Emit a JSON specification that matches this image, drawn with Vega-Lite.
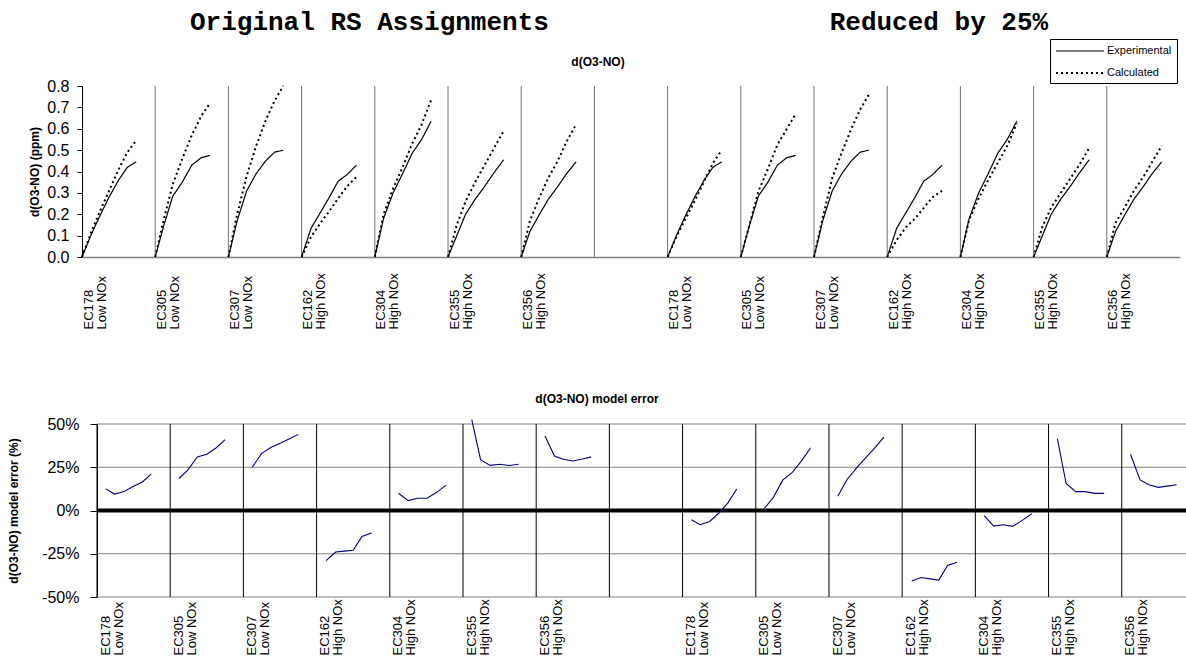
{
  "$schema": "https://vega.github.io/schema/vega-lite/v6.json",
  "background": "white",
  "padding": {"left": 7, "top": 8, "right": 0, "bottom": 0},
  "config": {
    "view": {"stroke": null},
    "font": "Liberation Sans",
    "axis": {"labelFont": "Liberation Sans", "titleFont": "Liberation Sans", "labelColor": "black", "titleColor": "black"},
    "legend": {"labelFont": "Liberation Sans"}
  },
  "title": {
    "text": "Original RS Assignments\u00a0\u00a0\u00a0\u00a0\u00a0\u00a0\u00a0\u00a0\u00a0\u00a0\u00a0\u00a0\u00a0\u00a0\u00a0\u00a0\u00a0\u00a0Reduced by 25%",
    "font": "Liberation Mono", "fontSize": 26, "fontWeight": "bold", "color": "black",
    "anchor": "start", "frame": "group", "dx": 108, "offset": 4
  },
  "datasets": {
    "d": [
      {"g":"A1","x":0,"Experimental":0,"Calculated":0,"err":null},
      {"g":"A1","x":0.12,"Experimental":0.10,"Calculated":0.112,"err":12.5},
      {"g":"A1","x":0.24,"Experimental":0.19,"Calculated":0.21,"err":9.5},
      {"g":"A1","x":0.37,"Experimental":0.28,"Calculated":0.31,"err":11},
      {"g":"A1","x":0.5,"Experimental":0.36,"Calculated":0.41,"err":14},
      {"g":"A1","x":0.62,"Experimental":0.42,"Calculated":0.49,"err":16.5},
      {"g":"A1","x":0.74,"Experimental":0.445,"Calculated":0.545,"err":21},

      {"g":"A2","x":1,"Experimental":0,"Calculated":0,"err":null},
      {"g":"A2","x":1.12,"Experimental":0.15,"Calculated":0.18,"err":18.5},
      {"g":"A2","x":1.24,"Experimental":0.285,"Calculated":0.34,"err":23.3},
      {"g":"A2","x":1.37,"Experimental":0.35,"Calculated":0.46,"err":31},
      {"g":"A2","x":1.5,"Experimental":0.43,"Calculated":0.57,"err":32.5},
      {"g":"A2","x":1.63,"Experimental":0.465,"Calculated":0.66,"err":36.3},
      {"g":"A2","x":1.75,"Experimental":0.475,"Calculated":0.72,"err":41},

      {"g":"A3","x":2,"Experimental":0,"Calculated":0,"err":null},
      {"g":"A3","x":2.12,"Experimental":0.17,"Calculated":0.2,"err":25},
      {"g":"A3","x":2.25,"Experimental":0.31,"Calculated":0.38,"err":33},
      {"g":"A3","x":2.38,"Experimental":0.39,"Calculated":0.52,"err":36.5},
      {"g":"A3","x":2.51,"Experimental":0.45,"Calculated":0.64,"err":39},
      {"g":"A3","x":2.63,"Experimental":0.49,"Calculated":0.73,"err":41.5},
      {"g":"A3","x":2.75,"Experimental":0.50,"Calculated":0.80,"err":44},

      {"g":"A4","x":3,"Experimental":0,"Calculated":0,"err":null},
      {"g":"A4","x":3.13,"Experimental":0.135,"Calculated":0.095,"err":-29},
      {"g":"A4","x":3.26,"Experimental":0.21,"Calculated":0.16,"err":-24},
      {"g":"A4","x":3.38,"Experimental":0.28,"Calculated":0.215,"err":-23.5},
      {"g":"A4","x":3.5,"Experimental":0.355,"Calculated":0.275,"err":-23},
      {"g":"A4","x":3.62,"Experimental":0.385,"Calculated":0.33,"err":-15},
      {"g":"A4","x":3.75,"Experimental":0.43,"Calculated":0.375,"err":-13},

      {"g":"A5","x":4,"Experimental":0,"Calculated":0,"err":null},
      {"g":"A5","x":4.12,"Experimental":0.18,"Calculated":0.2,"err":10},
      {"g":"A5","x":4.25,"Experimental":0.30,"Calculated":0.32,"err":5.7},
      {"g":"A5","x":4.38,"Experimental":0.39,"Calculated":0.42,"err":7.1},
      {"g":"A5","x":4.51,"Experimental":0.485,"Calculated":0.53,"err":7.1},
      {"g":"A5","x":4.64,"Experimental":0.55,"Calculated":0.62,"err":10.5},
      {"g":"A5","x":4.77,"Experimental":0.635,"Calculated":0.735,"err":14.7},

      {"g":"A6","x":5,"Experimental":0,"Calculated":0,"err":null},
      {"g":"A6","x":5.12,"Experimental":0.10,"Calculated":0.15,"err":52.5},
      {"g":"A6","x":5.24,"Experimental":0.20,"Calculated":0.26,"err":29.4},
      {"g":"A6","x":5.37,"Experimental":0.27,"Calculated":0.35,"err":26.1},
      {"g":"A6","x":5.5,"Experimental":0.33,"Calculated":0.43,"err":26.7},
      {"g":"A6","x":5.63,"Experimental":0.395,"Calculated":0.51,"err":26},
      {"g":"A6","x":5.76,"Experimental":0.455,"Calculated":0.59,"err":26.7},

      {"g":"A7","x":6,"Experimental":0,"Calculated":0,"err":null},
      {"g":"A7","x":6.12,"Experimental":0.12,"Calculated":0.17,"err":43},
      {"g":"A7","x":6.25,"Experimental":0.20,"Calculated":0.28,"err":31.5},
      {"g":"A7","x":6.37,"Experimental":0.27,"Calculated":0.37,"err":29.6},
      {"g":"A7","x":6.5,"Experimental":0.33,"Calculated":0.45,"err":28.6},
      {"g":"A7","x":6.62,"Experimental":0.39,"Calculated":0.54,"err":29.6},
      {"g":"A7","x":6.75,"Experimental":0.445,"Calculated":0.62,"err":31},

      {"g":"B1","x":8,"Experimental":0,"Calculated":0,"err":null},
      {"g":"B1","x":8.12,"Experimental":0.10,"Calculated":0.095,"err":-5.3},
      {"g":"B1","x":8.24,"Experimental":0.19,"Calculated":0.175,"err":-8.2},
      {"g":"B1","x":8.37,"Experimental":0.28,"Calculated":0.262,"err":-6.3},
      {"g":"B1","x":8.5,"Experimental":0.36,"Calculated":0.355,"err":-1.3},
      {"g":"B1","x":8.62,"Experimental":0.42,"Calculated":0.44,"err":4.4},
      {"g":"B1","x":8.74,"Experimental":0.445,"Calculated":0.50,"err":12.4},

      {"g":"B2","x":9,"Experimental":0,"Calculated":0,"err":null},
      {"g":"B2","x":9.12,"Experimental":0.15,"Calculated":0.152,"err":1.3},
      {"g":"B2","x":9.24,"Experimental":0.285,"Calculated":0.307,"err":7.6},
      {"g":"B2","x":9.37,"Experimental":0.35,"Calculated":0.412,"err":17.7},
      {"g":"B2","x":9.5,"Experimental":0.43,"Calculated":0.525,"err":22},
      {"g":"B2","x":9.63,"Experimental":0.465,"Calculated":0.6,"err":29},
      {"g":"B2","x":9.75,"Experimental":0.475,"Calculated":0.67,"err":36.3},

      {"g":"B3","x":10,"Experimental":0,"Calculated":0,"err":null},
      {"g":"B3","x":10.12,"Experimental":0.17,"Calculated":0.185,"err":8.2},
      {"g":"B3","x":10.25,"Experimental":0.31,"Calculated":0.37,"err":18.1},
      {"g":"B3","x":10.38,"Experimental":0.39,"Calculated":0.49,"err":24.8},
      {"g":"B3","x":10.51,"Experimental":0.45,"Calculated":0.6,"err":30.9},
      {"g":"B3","x":10.63,"Experimental":0.49,"Calculated":0.69,"err":36.3},
      {"g":"B3","x":10.75,"Experimental":0.50,"Calculated":0.76,"err":42.4},

      {"g":"B4","x":11,"Experimental":0,"Calculated":0,"err":null},
      {"g":"B4","x":11.13,"Experimental":0.135,"Calculated":0.08,"err":-40.8},
      {"g":"B4","x":11.26,"Experimental":0.21,"Calculated":0.14,"err":-38.7},
      {"g":"B4","x":11.38,"Experimental":0.28,"Calculated":0.18,"err":-39.5},
      {"g":"B4","x":11.5,"Experimental":0.355,"Calculated":0.23,"err":-40.2},
      {"g":"B4","x":11.62,"Experimental":0.385,"Calculated":0.28,"err":-31.8},
      {"g":"B4","x":11.75,"Experimental":0.43,"Calculated":0.31,"err":-29.9},

      {"g":"B5","x":12,"Experimental":0,"Calculated":0,"err":null},
      {"g":"B5","x":12.12,"Experimental":0.18,"Calculated":0.175,"err":-2.9},
      {"g":"B5","x":12.25,"Experimental":0.30,"Calculated":0.275,"err":-9},
      {"g":"B5","x":12.38,"Experimental":0.39,"Calculated":0.36,"err":-8.2},
      {"g":"B5","x":12.51,"Experimental":0.485,"Calculated":0.44,"err":-9.2},
      {"g":"B5","x":12.64,"Experimental":0.55,"Calculated":0.52,"err":-5.7},
      {"g":"B5","x":12.77,"Experimental":0.635,"Calculated":0.625,"err":-1.9},

      {"g":"B6","x":13,"Experimental":0,"Calculated":0,"err":null},
      {"g":"B6","x":13.12,"Experimental":0.10,"Calculated":0.142,"err":41.6},
      {"g":"B6","x":13.24,"Experimental":0.20,"Calculated":0.231,"err":15.6},
      {"g":"B6","x":13.37,"Experimental":0.27,"Calculated":0.30,"err":10.9},
      {"g":"B6","x":13.5,"Experimental":0.33,"Calculated":0.366,"err":10.9},
      {"g":"B6","x":13.63,"Experimental":0.395,"Calculated":0.434,"err":9.9},
      {"g":"B6","x":13.76,"Experimental":0.455,"Calculated":0.51,"err":9.9},

      {"g":"B7","x":14,"Experimental":0,"Calculated":0,"err":null},
      {"g":"B7","x":14.12,"Experimental":0.12,"Calculated":0.16,"err":32.4},
      {"g":"B7","x":14.25,"Experimental":0.20,"Calculated":0.235,"err":17.7},
      {"g":"B7","x":14.37,"Experimental":0.27,"Calculated":0.31,"err":14.9},
      {"g":"B7","x":14.5,"Experimental":0.33,"Calculated":0.375,"err":13.4},
      {"g":"B7","x":14.62,"Experimental":0.39,"Calculated":0.445,"err":14.1},
      {"g":"B7","x":14.75,"Experimental":0.445,"Calculated":0.52,"err":14.9}
    ],
    "vs": [{"x":0},{"x":1},{"x":2},{"x":3},{"x":4},{"x":5},{"x":6},{"x":7},{"x":8},{"x":9},{"x":10},{"x":11},{"x":12},{"x":13},{"x":14}],
    "hg": [{"pct":50},{"pct":25},{"pct":-25},{"pct":-50}]
  },
  "spacing": 64,
  "vconcat": [
    {
      "width": 1098,
      "height": 171,
      "title": {"text": "d(O3-NO)", "font": "Liberation Sans", "fontSize": 12, "fontWeight": "bold", "color": "black", "anchor": "middle", "frame": "group", "dx": -33, "offset": 9},
      "resolve": {"axis": {"x": "independent", "y": "independent"}},
      "layer": [
        {
          "data": {"name": "vs"},
          "transform": [{"filter": "datum.x > 0"}],
          "mark": {"type": "rule", "color": "#707070", "strokeWidth": 1},
          "encoding": {
            "x": {"field": "x", "type": "quantitative", "scale": {"domain": [0, 15], "nice": false, "zero": false}, "axis": null},
            "y": {"datum": 0, "type": "quantitative", "scale": {"domain": [0, 0.8], "nice": false}, "axis": null},
            "y2": {"datum": 0.8}
          }
        },
        {
          "data": {"name": "d"},
          "transform": [{"fold": ["Experimental", "Calculated"], "as": ["series", "val"]}],
          "mark": {"type": "line", "color": "black", "strokeCap": "butt"},
          "encoding": {
            "x": {
              "field": "x", "type": "quantitative",
              "scale": {"domain": [0, 15], "nice": false, "zero": false},
              "axis": {
                "orient": "bottom",
                "title": null,
                "values": [0, 1, 2, 3, 4, 5, 6, 8, 9, 10, 11, 12, 13, 14],
                "labelExpr": "[['EC178','Low NOx'],['EC305','Low NOx'],['EC307','Low NOx'],['EC162','High NOx'],['EC304','High NOx'],['EC355','High NOx'],['EC356','High NOx'],['','']][floor(datum.value) % 8]",
                "labelAngle": -90, "labelAlign": "left", "labelBaseline": "top",
                "labelPadding": 72, "labelFontSize": 13, "labelLineHeight": 13,
                "labelOverlap": false, "labelFlush": false, "labelBound": false,
                "ticks": false, "grid": false,
                "domainColor": "#808080", "domainWidth": 1.5
              }
            },
            "y": {
              "field": "val", "type": "quantitative",
              "scale": {"domain": [0, 0.8], "nice": false},
              "axis": {
                "orient": "left",
                "title": "d(O3-NO) (ppm)", "titleFontSize": 12, "titleFontWeight": "bold", "titlePadding": 5,
                "values": [0, 0.1, 0.2, 0.3, 0.4, 0.5, 0.6, 0.7, 0.8], "format": ".1f",
                "labelFontSize": 16, "labelPadding": 8, "tickSize": 5,
                "tickColor": "black", "domainColor": "black", "grid": false
              }
            },
            "detail": {"field": "g"},
            "strokeDash": {
              "field": "series", "type": "nominal",
              "scale": {"domain": ["Experimental", "Calculated"], "range": [[1, 0], [2, 3]]},
              "legend": {
                "title": null, "orient": "none", "legendX": 968, "legendY": -47,
                "symbolType": "M-1,0H7", "symbolSize": 144, "symbolStrokeWidth": 1.5, "symbolStrokeColor": "black",
                "labelFontSize": 11, "labelColor": "black", "labelOffset": 38,
                "strokeColor": "black", "fillColor": "white", "padding": 5, "rowPadding": 10
              }
            },
            "strokeWidth": {
              "field": "series", "type": "nominal",
              "scale": {"domain": ["Experimental", "Calculated"], "range": [1.2, 2]},
              "legend": null
            }
          }
        }
      ]
    },
    {
      "width": 1106,
      "height": 173,
      "title": {"text": "d(O3-NO) model error", "font": "Liberation Sans", "fontSize": 12, "fontWeight": "bold", "color": "black", "anchor": "middle", "frame": "group", "dx": -38, "offset": 10},
      "resolve": {"axis": {"x": "independent", "y": "independent"}},
      "layer": [
        {
          "data": {"name": "hg"},
          "mark": {"type": "rule", "color": "#808080", "strokeWidth": 1},
          "encoding": {
            "x": {"datum": 0, "type": "quantitative", "scale": {"domain": [-0.205, 14.905], "nice": false, "zero": false}, "axis": null},
            "x2": {"datum": 14.905},
            "y": {"field": "pct", "type": "quantitative", "scale": {"domain": [-50, 50], "nice": false}, "axis": null}
          }
        },
        {
          "data": {"name": "vs"},
          "mark": {"type": "rule", "color": "black", "strokeWidth": 1},
          "encoding": {
            "x": {"field": "x", "type": "quantitative", "scale": {"domain": [-0.205, 14.905], "nice": false, "zero": false}, "axis": null},
            "y": {"datum": -50, "type": "quantitative", "scale": {"domain": [-50, 50], "nice": false}, "axis": null},
            "y2": {"datum": 50}
          }
        },
        {
          "data": {"values": [{}]},
          "mark": {"type": "rule", "color": "black", "strokeWidth": 4},
          "encoding": {
            "x": {"datum": 0, "type": "quantitative", "scale": {"domain": [-0.205, 14.905], "nice": false, "zero": false}, "axis": null},
            "x2": {"datum": 14.905},
            "y": {"datum": 0, "type": "quantitative", "scale": {"domain": [-50, 50], "nice": false}, "axis": null}
          }
        },
        {
          "data": {"name": "d"},
          "mark": {"type": "line", "color": "#000080", "strokeWidth": 1.1},
          "encoding": {
            "x": {
              "field": "x", "type": "quantitative",
              "scale": {"domain": [-0.205, 14.905], "nice": false, "zero": false},
              "axis": {
                "orient": "bottom",
                "title": null,
                "values": [0.03, 1.03, 2.03, 3.03, 4.03, 5.03, 6.03, 8.03, 9.03, 10.03, 11.03, 12.03, 13.03, 14.03],
                "labelExpr": "[['EC178','Low NOx'],['EC305','Low NOx'],['EC307','Low NOx'],['EC162','High NOx'],['EC304','High NOx'],['EC355','High NOx'],['EC356','High NOx'],['','']][floor(datum.value) % 8]",
                "labelAngle": -90, "labelAlign": "left", "labelBaseline": "top",
                "labelPadding": 58, "labelFontSize": 13, "labelLineHeight": 13,
                "labelOverlap": false, "labelFlush": false, "labelBound": false,
                "ticks": false, "grid": false, "domain": false
              }
            },
            "y": {
              "field": "err", "type": "quantitative",
              "scale": {"domain": [-50, 50], "nice": false},
              "axis": {
                "orient": "left",
                "title": "d(O3-NO) model error (%)", "titleFontSize": 12, "titleFontWeight": "bold", "titlePadding": 21,
                "values": [-50, -25, 0, 25, 50], "labelExpr": "datum.value + '%'",
                "labelFontSize": 16, "labelPadding": 11, "tickSize": 7, "offset": -15,
                "tickColor": "black", "domainColor": "black", "grid": false
              }
            },
            "detail": {"field": "g"}
          }
        }
      ]
    }
  ]
}
